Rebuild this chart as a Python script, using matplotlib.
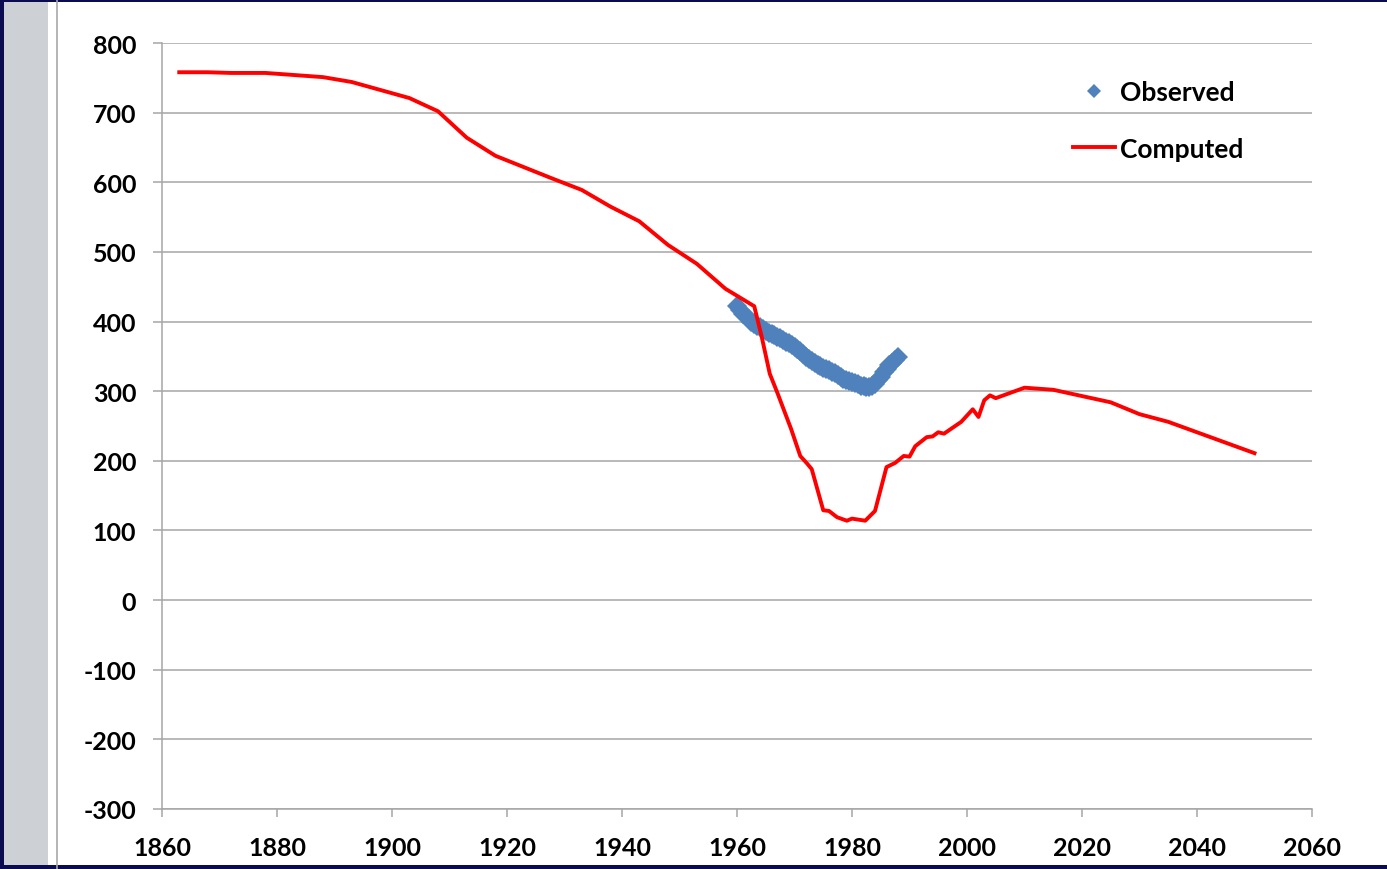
import numpy as np
import matplotlib
matplotlib.use("Agg")
import matplotlib.pyplot as plt
from matplotlib.patches import Rectangle
from matplotlib.lines import Line2D

plt.rcParams['font.family'] = ['Lato', 'DejaVu Sans']
plt.rcParams['axes.unicode_minus'] = False

# Observed series, half-yearly
obs_years = np.arange(1960.0, 1988.01, 0.5)
obs_values = [423, 416, 411, 408, 404, 400, 397, 394, 392, 389,
              386, 384, 382, 380, 378, 376, 374, 371, 369, 366,
              363, 360, 357, 353, 349, 346, 343, 340, 338, 336,
              334, 332, 330, 328, 326, 323, 320, 318, 316, 314,
              313, 312, 310, 308, 307, 306, 306, 307, 311, 316,
              321, 327, 332, 337, 341, 345, 349]

# Computed series
comp_years = [1863, 1868, 1872, 1878, 1888, 1893, 1903, 1908, 1913, 1918,
              1928, 1933, 1938, 1943, 1948, 1953, 1958, 1963, 1964.3, 1965.7,
              1967.1, 1968.2, 1969.4, 1971, 1972.2, 1973, 1975, 1976, 1977.4, 1979.1,
              1980, 1982.3, 1984, 1986, 1987.5, 1989, 1990, 1991, 1993, 1994,
              1995, 1996, 1999, 2001, 2002, 2003, 2004, 2005, 2010, 2015,
              2025, 2030, 2035, 2050]
comp_values = [758, 758, 757, 757, 751, 744, 721, 702, 664, 638,
               605, 589, 565, 544, 510, 483, 447, 422, 378, 325,
               296, 272, 246, 207, 196, 188, 129, 128, 119, 114,
               117, 114, 128, 191, 197, 207, 206, 221, 234, 235,
               241, 239, 256, 274, 263, 287, 294, 290, 305, 302,
               284, 267, 256, 211]

x_ticks = list(range(1860, 2061, 20))
y_ticks = list(range(-300, 801, 100))

W, H = 1387, 870
fig = plt.figure(figsize=(W / 100, H / 100), dpi=100)
fig.patch.set_facecolor('white')

# Slide frame decorations
navy = '#0b0b52'
fig.patches.append(Rectangle((0, 0), 4 / W, 1, transform=fig.transFigure,
                             facecolor=navy, edgecolor='none', zorder=0))
fig.patches.append(Rectangle((4 / W, 0), 44 / W, 1, transform=fig.transFigure,
                             facecolor='#cdd1d6', edgecolor='none', zorder=0))
fig.patches.append(Rectangle((0, 1 - 3 / H), 1, 3 / H, transform=fig.transFigure,
                             facecolor=navy, edgecolor='none', zorder=1))
fig.patches.append(Rectangle((0, 0), 1, 4 / H, transform=fig.transFigure,
                             facecolor=navy, edgecolor='none', zorder=1))
fig.lines.append(Line2D([57 / W, 57 / W], [0, 1], transform=fig.transFigure,
                        color='#a8a8a8', lw=1.2))

ax = fig.add_axes([162 / W, 1 - 810 / H, (1312 - 162) / W, (810 - 44) / H])

grid_c = '#a6a6a6'
ax.plot(obs_years, obs_values, linestyle='none', marker='D', markersize=10.5,
        markerfacecolor='#4f81bd', markeredgewidth=0, color='#4f81bd',
        label='Observed', zorder=3)
ax.plot(comp_years, comp_values, color='#ff0000', lw=2.8, label='Computed',
        zorder=4, solid_joinstyle='round')

ax.set_xlim(1860, 2060)
ax.set_ylim(-300, 800)
ax.set_xticks(x_ticks)
ax.set_yticks(y_ticks)
ax.set_xticklabels([str(v) for v in x_ticks], fontsize=18, fontweight='bold')
ax.set_yticklabels([str(v) for v in y_ticks], fontsize=18, fontweight='bold')

ax.yaxis.grid(True, color=grid_c, lw=1.1)
ax.set_axisbelow(True)
for s in ('top', 'right'):
    ax.spines[s].set_visible(False)
for s in ('left', 'bottom'):
    ax.spines[s].set_color(grid_c)
    ax.spines[s].set_linewidth(1.1)
ax.tick_params(axis='both', colors=grid_c, labelcolor='black', width=1.1)
ax.tick_params(axis='y', length=6.5, pad=12)
ax.tick_params(axis='x', length=6, pad=13.5)

leg = ax.legend(loc='upper left', bbox_to_anchor=(1073 / W, 1 - 81 / H),
                bbox_transform=fig.transFigure, frameon=False,
                prop={'family': 'Lato', 'weight': 'bold', 'size': 19},
                handlelength=1.58, handletextpad=0.2, labelspacing=1.24,
                borderpad=0, borderaxespad=0)
leg.legend_handles[0].set_markersize(7.5)

fig.savefig('out.png', dpi=100)
